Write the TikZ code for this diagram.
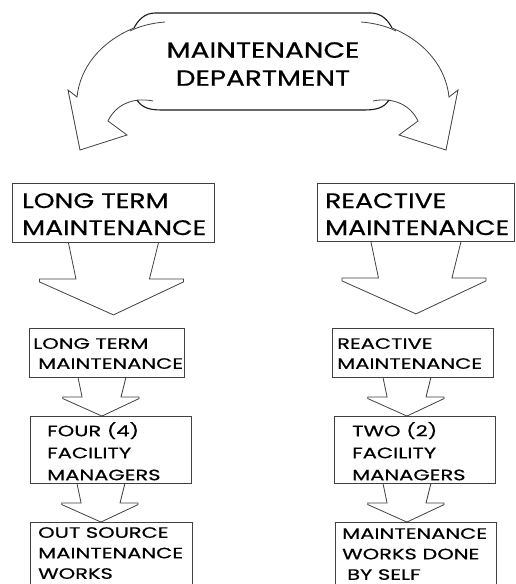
\documentclass[tikz,border=0pt]{standalone}
\usepackage{fontspec}
\usetikzlibrary{calc,backgrounds}
\newfontfamily\bigfont[FakeStretch=1.27, FakeBold=0.6]{Poppins}
\newfontfamily\smfont[FakeStretch=1.4, FakeBold=0.6]{Poppins}

\tikzset{
  box/.style={draw=black!75, line width=0.9pt, fill=white, inner sep=0pt, anchor=north west},
  boxtext/.style={inner sep=0pt, align=left, anchor=north west, text=black},
  outline/.style={draw=black!75, line width=0.8pt, line join=miter, fill=white},
  edgeline/.style={draw=black!90, line width=1.1pt},
  % block arrow pointing down, origin at the top centre of its shaft
  down arrow/.pic={
    \path[outline] (-45,0) -- (-37.5,36) -- (-74,36) -- (-74,39) -- (0,72)
      -- (70,39) -- (70,36) -- (36,36) -- (45,0);
  },
  % left half of the curved banner arrow
  banner half/.pic={
    \draw[edgeline] (263,13) -- (155,13) .. controls (145,13) and (138,20) .. (134,28);
    \draw[outline, fill=none] (165,22) .. controls (152,23) and (140,26) .. (130,31);
    \draw[outline, fill=none] (134,28) .. controls (100,42) and (80,68) .. (77,97)
      -- (68,90) -- (80,150) -- (127,135) -- (108,121)
      .. controls (116,104) and (134,97) .. (153,101);
    \draw[edgeline] (137,100) .. controls (142,108) and (150,110) .. (162,110) -- (263,110);
  }
}

\begin{document}
\begin{tikzpicture}[x=1pt,y=-1pt]
\useasboundingbox (0,0) rectangle (515,584);
\clip (0,0) rectangle (515,584);

% curved double arrow of the department
\pic at (0,0) {banner half};
\pic[xscale=-1] at (526,0) {banner half};
\node[inner sep=0pt, anchor=north, align=center, font=\bigfont\fontsize{22}{28}\selectfont]
  (dept) at (263,42) {MAINTENANCE\\DEPARTMENT};

% left column
\node[box, minimum width=202pt, minimum height=59pt] (ltA) at (12,183) {};
\node[boxtext, font=\bigfont\fontsize{21}{27}\selectfont] (ltAt) at ($(ltA.north west)+(10,10)$)
  {LONG TERM\\MAINTENANCE};
\node[box, minimum width=155pt, minimum height=49pt] (ltB) at (29,328) {};
\node[boxtext, font=\smfont\fontsize{15}{20}\selectfont] (ltBt) at ($(ltB.north west)+(4,10)$)
  {LONG TERM\\\hspace*{5pt}MAINTENANCE};
\node[box, minimum width=161pt, minimum height=67pt] (ltC) at (30,416) {};
\node[boxtext, font=\smfont\fontsize{15}{22}\selectfont] (ltCt) at ($(ltC.north west)+(17,6)$)
  {FOUR (4)\\FACILITY\\MANAGERS};
\node[box, minimum width=162pt, minimum height=80pt] (ltD) at (30,522) {};
\node[boxtext, font=\smfont\fontsize{15}{20.5}\selectfont] (ltDt) at ($(ltD.north west)+(8,5)$)
  {OUT SOURCE\\MAINTENANCE\\WORKS};

% right column
\node[box, minimum width=197pt, minimum height=58pt] (reA) at (317,183) {};
\node[boxtext, font=\bigfont\fontsize{21}{27}\selectfont] (reAt) at ($(reA.north west)+(8,10)$)
  {REACTIVE\\MAINTENANCE};
\node[box, minimum width=161pt, minimum height=49pt] (reB) at (332,328) {};
\node[boxtext, font=\smfont\fontsize{15}{20}\selectfont] (reBt) at ($(reB.north west)+(5,10)$)
  {REACTIVE\\MAINTENANCE};
\node[box, minimum width=161pt, minimum height=67pt] (reC) at (334,416) {};
\node[boxtext, font=\smfont\fontsize{15}{22}\selectfont] (reCt) at ($(reC.north west)+(18,6)$)
  {TWO (2)\\FACILITY\\MANAGERS};
\node[box, minimum width=161pt, minimum height=80pt] (reD) at (335,522) {};
\node[boxtext, font=\smfont\fontsize{15}{20.5}\selectfont] (reDt) at ($(reD.north west)+(7,6)$)
  {MAINTENANCE\\WORKS DONE\\\hspace*{5pt}BY SELF};

% block arrows between the boxes, kept behind the boxes and their texts
\begin{scope}[on background layer]
\pic at (ltA.south) {down arrow};
\pic[scale=0.53] at ($(ltB.south)+(-5,0)$) {down arrow};
\pic[scale=0.53] at ($(ltC.south)+(-10,0)$) {down arrow};
\pic at (reA.south) {down arrow};
\pic[scale=0.53] at ($(reB.south)+(-6,0)$) {down arrow};
\pic[scale=0.53] at ($(reC.south)+(-8,0)$) {down arrow};
\end{scope}
\end{tikzpicture}
\end{document}
